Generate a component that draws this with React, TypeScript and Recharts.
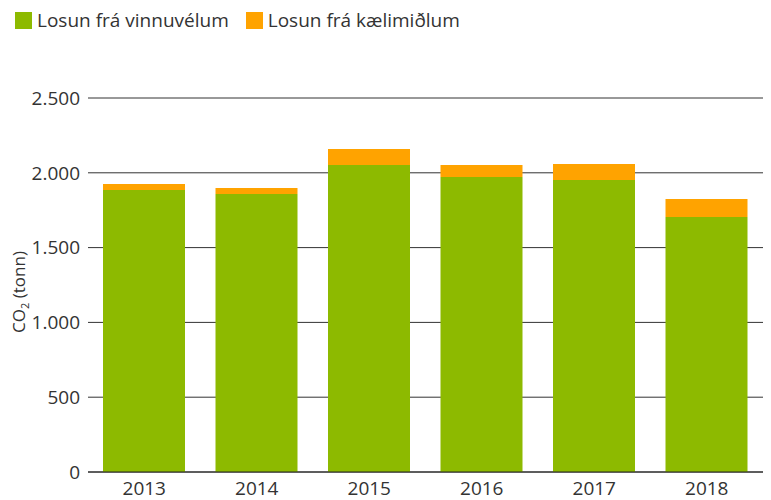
import { Bar, BarChart, CartesianGrid, XAxis, YAxis } from "recharts";

const years = ["2013", "2014", "2015", "2016", "2017", "2018"];
const vinnuvelar = [1885, 1858, 2052, 1972, 1952, 1705];
const kaelimidlar = [40, 40, 107, 80, 107, 120];
const yTicks = [0, 500, 1000, 1500, 2000, 2500];

const GREEN = "#8dba00";
const ORANGE = "#ffa300";
const TEXT = "#333333";
const FONT = "'Open Sans', 'DejaVu Sans', sans-serif";

const data = years.map((year, i) => ({
	year,
	vinnuvelar: vinnuvelar[i],
	kaelimidlar: kaelimidlar[i],
}));

const legendItems = [
	{ label: "Losun frá vinnuvélum", color: GREEN },
	{ label: "Losun frá kælimiðlum", color: ORANGE },
];

function formatThousands(v: number): string {
	return v.toString().replace(/\B(?=(\d{3})+(?!\d))/g, ".");
}

function YLabel() {
	// rotated "CO₂ (tonn)" with a real subscript
	return (
		<text
			x={0}
			y={0}
			transform="translate(25, 292) rotate(-90)"
			textAnchor="middle"
			fill={TEXT}
			fontSize={17}
			fontFamily={FONT}
		>
			CO
			<tspan fontSize={11} dy={4}>
				2
			</tspan>
			<tspan dy={-4}> (tonn)</tspan>
		</text>
	);
}

export default function App() {
	return (
		<div style={{ position: "absolute", top: 0, left: 0, width: 771, height: 500, fontFamily: FONT }}>
			<div
				style={{
					position: "absolute",
					top: 7,
					left: 15,
					display: "flex",
					gap: 17,
					fontSize: 19,
					color: TEXT,
					lineHeight: "26px",
					zIndex: 1,
				}}
			>
				{legendItems.map((item) => (
					<div key={item.label} style={{ display: "flex", alignItems: "center", gap: 5 }}>
						<span style={{ display: "inline-block", width: 17, height: 17, background: item.color }} />
						<span>{item.label}</span>
					</div>
				))}
			</div>
			<BarChart
				width={771}
				height={500}
				data={data}
				margin={{ top: 98, right: 8, bottom: 0, left: 0 }}
			>
				<CartesianGrid vertical={false} stroke="#333" strokeWidth={1} />
				<XAxis
					dataKey="year"
					height={28}
					tickLine={false}
					axisLine={{ stroke: "#222" }}
					tick={{ fill: TEXT, fontSize: 19, fontFamily: FONT }}
					tickMargin={4}
				/>
				<YAxis
					width={88}
					domain={[0, 2500]}
					ticks={yTicks}
					tickLine={false}
					axisLine={false}
					tickFormatter={formatThousands}
					tick={{ fill: TEXT, fontSize: 19, fontFamily: FONT }}
					label={<YLabel />}
				/>
				<Bar dataKey="vinnuvelar" stackId="a" fill={GREEN} barSize={82} isAnimationActive={false} />
				<Bar dataKey="kaelimidlar" stackId="a" fill={ORANGE} barSize={82} isAnimationActive={false} />
			</BarChart>
		</div>
	);
}
